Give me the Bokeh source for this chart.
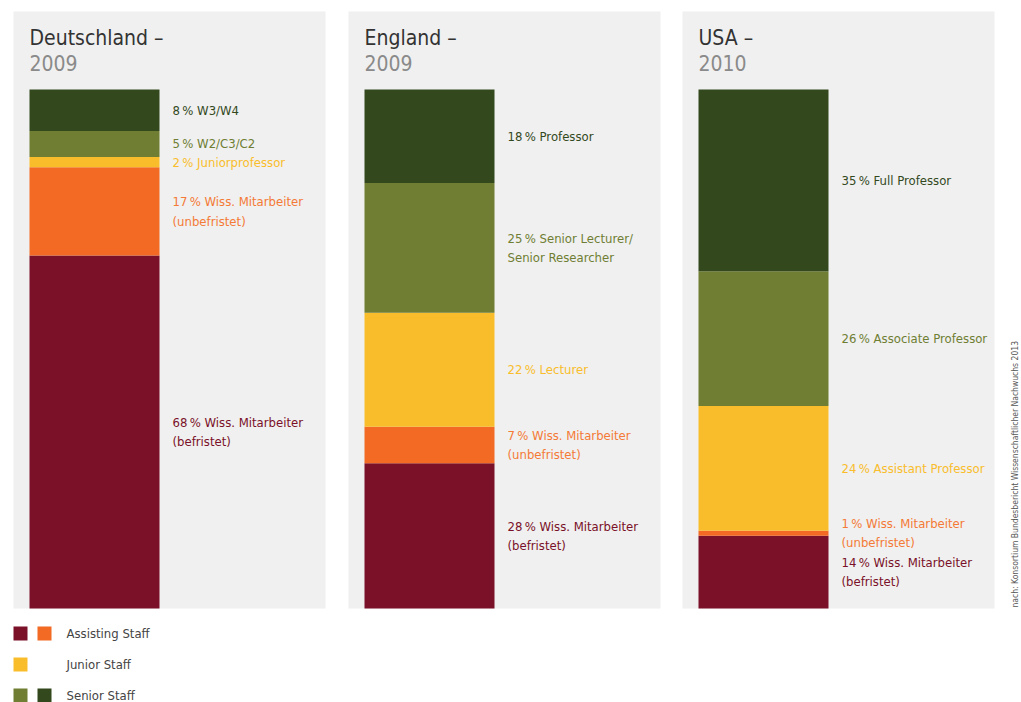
import math
from bokeh.plotting import figure
from bokeh.models import Range1d, ColumnDataSource
from bokeh.core.properties import value
from bokeh.embed import file_html
from bokeh.resources import INLINE

# ---------------- data ----------------
countries = ["Deutschland –", "England –", "USA –"]
years = ["2009", "2009", "2010"]
# segment order: bottom -> top
seg_colors = ["#7a1128", "#f26a23", "#f9bd2b", "#6f7e33", "#33491d"]
txt_colors = ["#7a1128", "#f47a36", "#f9bd2b", "#6f7e33", "#33491d"]
values_de = [68, 17, 2, 5, 8]
values_en = [28, 7, 22, 25, 18]
values_us = [14, 1, 24, 26, 35]
labels_de = ["Wiss. Mitarbeiter\n(befristet)", "Wiss. Mitarbeiter\n(unbefristet)",
             "Juniorprofessor", "W2/C3/C2", "W3/W4"]
labels_en = ["Wiss. Mitarbeiter\n(befristet)", "Wiss. Mitarbeiter\n(unbefristet)",
             "Lecturer", "Senior Lecturer/\nSenior Researcher", "Professor"]
labels_us = ["Wiss. Mitarbeiter\n(befristet)", "Wiss. Mitarbeiter\n(unbefristet)",
             "Assistant Professor", "Associate Professor", "Full Professor"]
legend_labels = ["Assisting Staff", "Junior Staff", "Senior Staff"]
legend_colors = [["#7a1128", "#f26a23"], ["#f9bd2b"], ["#6f7e33", "#33491d"]]
source_note = "nach: Konsortium Bundesbericht Wissenschaftlicher Nachwuchs 2013"

# ---------------- layout constants (pixels) ----------------
W, H = 1021, 702
BAR_TOP, BAR_BOTTOM = 89, 608          # pixel rows of 100 % and 0 %
PANEL_LEFT = [13, 348, 682]
PANEL_W = 312
PANEL_TOP = 11
BAR_OFF, BAR_W = 16, 130
FONT = "'Liberation Sans Narrow', 'DejaVu Sans Condensed', sans-serif"

ppp = (BAR_BOTTOM - BAR_TOP) / 100.0
p = figure(width=W, height=H, output_backend="svg", toolbar_location=None,
           x_range=Range1d(0, W),
           y_range=Range1d(-(H - BAR_BOTTOM) / ppp, 100 + BAR_TOP / ppp),
           min_border=0, background_fill_color="white", border_fill_color="white")
p.extra_y_ranges = {"px": Range1d(H, 0)}
p.axis.visible = False
p.grid.visible = False
p.outline_line_color = None

# panel backgrounds
p.quad(left=PANEL_LEFT, right=[l + PANEL_W for l in PANEL_LEFT],
       top=[PANEL_TOP] * 3, bottom=[BAR_BOTTOM] * 3, y_range_name="px",
       fill_color="#f0f0f0", line_color=None)

all_vals = [values_de, values_en, values_us]
all_labels = [labels_de, labels_en, labels_us]
for i, (vals, labs) in enumerate(zip(all_vals, all_labels)):
    left = PANEL_LEFT[i] + BAR_OFF
    bottoms, tops, mids, texts = [], [], [], []
    acc = 0
    for v, lab in zip(vals, labs):
        bottoms.append(acc)
        tops.append(acc + v)
        mids.append(acc + v / 2)
        texts.append(f"{v}\u2009% {lab}")
        acc += v
    src = ColumnDataSource(dict(b=bottoms, t=tops, m=mids, txt=texts,
                                c=seg_colors, tc=txt_colors))
    p.vbar(x=left + BAR_W / 2, width=BAR_W, bottom="b", top="t", source=src,
           fill_color="c", line_color=None)
    p.text(x=left + BAR_W + 13, y="m", text="txt", source=src, text_color="tc",
           text_font=value(FONT), text_font_size="13px", text_baseline="middle",
           text_align="left", text_line_height=1.3)
    # titles
    p.text(x=[left], y=[37], text=[countries[i]], y_range_name="px",
           text_font=value(FONT), text_font_size="21px", text_color="#333333",
           text_baseline="middle")
    p.text(x=[left], y=[62], text=[years[i]], y_range_name="px",
           text_font=value(FONT), text_font_size="21px", text_color="#8a8a8a",
           text_baseline="middle")

# legend
leg_y = [633, 664, 695]
for j, (lab, cols) in enumerate(zip(legend_labels, legend_colors)):
    xs = [20 + 24 * k for k in range(len(cols))]
    p.rect(x=xs, y=[leg_y[j]] * len(cols), width=14, height=14, y_range_name="px",
           fill_color=cols, line_color=None)
    p.text(x=[66], y=[leg_y[j]], text=[lab], y_range_name="px",
           text_font=value(FONT), text_font_size="13px", text_color="#444444",
           text_baseline="middle")

# vertical source note
p.text(x=[1014], y=[607], text=[source_note], y_range_name="px", angle=math.pi / 2,
       text_font=value(FONT), text_font_size="8.5px", text_color="#555555",
       text_baseline="middle", text_align="left")

open("out.html", "w").write(file_html(p, INLINE))
